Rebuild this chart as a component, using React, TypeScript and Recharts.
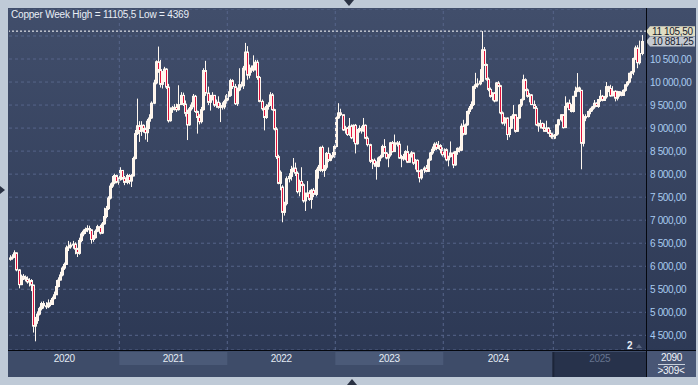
import React from "react";
import { Bar, CartesianGrid, ComposedChart, ReferenceLine, XAxis, YAxis } from "recharts";

// weekly candles [open, high, low, close]
const w2020 = [
  [6150, 6240, 6120, 6180], [6180, 6260, 6140, 6200], [6200, 6345, 6180, 6290], [6290, 6300, 5890, 5920],
  [5920, 5940, 5520, 5600], [5600, 5820, 5590, 5780], [5780, 5830, 5700, 5760], [5760, 5800, 5670, 5720],
  [5720, 5780, 5620, 5660], [5660, 5740, 5560, 5690], [5690, 5720, 5460, 5590], [5590, 5600, 4560, 4700],
  [4700, 4900, 4369, 4820], [4820, 5020, 4750, 4960], [4960, 5120, 4930, 5080], [5080, 5230, 5040, 5190],
  [5190, 5240, 5080, 5140], [5140, 5220, 5070, 5120], [5120, 5280, 5090, 5200], [5200, 5270, 5130, 5170],
  [5170, 5340, 5160, 5300], [5300, 5450, 5280, 5380], [5380, 5700, 5380, 5560], [5560, 5760, 5540, 5700],
  [5700, 5880, 5690, 5810], [5810, 6000, 5780, 5960], [5960, 6080, 5920, 6040], [6040, 6450, 6030, 6400],
  [6400, 6550, 6330, 6420], [6420, 6520, 6380, 6460], [6460, 6550, 6380, 6480], [6480, 6520, 6260, 6370],
  [6370, 6400, 6200, 6280], [6280, 6620, 6250, 6560], [6560, 6740, 6520, 6700], [6700, 6800, 6650, 6760],
  [6760, 6840, 6700, 6800], [6800, 6890, 6740, 6820], [6820, 6880, 6700, 6790], [6790, 6800, 6490, 6580],
  [6580, 6680, 6530, 6620], [6620, 6800, 6600, 6760], [6760, 6900, 6740, 6860], [6860, 6900, 6690, 6720],
  [6720, 6960, 6700, 6920], [6920, 7270, 6900, 7080], [7080, 7310, 7040, 7250], [7250, 7520, 7220, 7480],
  [7480, 7800, 7450, 7740], [7740, 7960, 7700, 7810], [7810, 8010, 7780, 7970], [7970, 7990, 7800, 7830],
  [7830, 7930, 7770, 7880],
];
const w2021 = [
  [7880, 8150, 7860, 8080], [8080, 8080, 7880, 7920], [7920, 7960, 7760, 7820], [7820, 8010, 7780, 7970],
  [7970, 8000, 7780, 7850], [7850, 8000, 7720, 7960], [7960, 8380, 7950, 8340], [8340, 8960, 8320, 8880],
  [8880, 9640, 8850, 9050], [9050, 9150, 8700, 8930], [8930, 9150, 8830, 9060], [9060, 9080, 8900, 8990],
  [8990, 9010, 8750, 8900], [8900, 9200, 8700, 9150], [9150, 9300, 8980, 9220], [9220, 9580, 9200, 9540],
  [9540, 10050, 9520, 9980], [9980, 10470, 9950, 10440], [10440, 10770, 10200, 10270], [10270, 10480, 9880, 9950],
  [9950, 10240, 9860, 10180], [10180, 10330, 10000, 10280], [10280, 10300, 9850, 9890], [9890, 9960, 9120, 9160],
  [9160, 9450, 9140, 9400], [9400, 9480, 9330, 9440], [9440, 9520, 9380, 9450], [9450, 9530, 9350, 9400],
  [9400, 9930, 9380, 9510], [9510, 9780, 9500, 9710], [9710, 9770, 9480, 9520], [9520, 9600, 9250, 9320],
  [9320, 9400, 8740, 9070], [9070, 9460, 9050, 9420], [9420, 9560, 9380, 9500], [9500, 9740, 9450, 9690],
  [9690, 9720, 9330, 9360], [9360, 9380, 8880, 9230], [9230, 9300, 9080, 9140], [9140, 9460, 9100, 9400],
  [9400, 10300, 9380, 10250], [10250, 10460, 9700, 9760], [9760, 9900, 9500, 9560], [9560, 9720, 9380, 9630],
  [9630, 9780, 9600, 9710], [9710, 9720, 9460, 9500], [9500, 9620, 9440, 9560], [9560, 9690, 9420, 9450],
  [9450, 9550, 9130, 9490], [9490, 9560, 9400, 9460], [9460, 9620, 9410, 9580], [9580, 9740, 9530, 9700],
];
const w2022 = [
  [9700, 9800, 9600, 9710], [9710, 10070, 9680, 10030], [10030, 10060, 9850, 9900], [9900, 9960, 9500, 9530],
  [9530, 9880, 9480, 9830], [9830, 10300, 9800, 9940], [9940, 10010, 9880, 9920], [9920, 10350, 9850, 10300],
  [10300, 10850, 10250, 10650], [10650, 10780, 10050, 10150], [10150, 10380, 10080, 10300], [10300, 10360, 10200, 10260],
  [10260, 10580, 10220, 10350], [10350, 10480, 10250, 10430], [10430, 10480, 10050, 10100], [10100, 10130, 9560, 9580],
  [9580, 9620, 9380, 9420], [9420, 9450, 8950, 9230], [9230, 9520, 9200, 9470], [9470, 9560, 9400, 9500],
  [9500, 9780, 9480, 9720], [9720, 9760, 9380, 9400], [9400, 9420, 8950, 8980], [8980, 9020, 8330, 8380],
  [8380, 8420, 7780, 7800], [7800, 8080, 7650, 8040], [7720, 7760, 6955, 7170], [7170, 7400, 7100, 7360],
  [7360, 7950, 7320, 7900], [7900, 8020, 7820, 7950], [7950, 8180, 7860, 8100], [8100, 8350, 8040, 8130],
  [8130, 8250, 7960, 8020], [8020, 8060, 7580, 7620], [7620, 7880, 7520, 7840], [7840, 8150, 7740, 7770],
  [7770, 7800, 7380, 7420], [7420, 7600, 7200, 7540], [7540, 7850, 7500, 7590], [7590, 7650, 7420, 7450],
  [7450, 7680, 7250, 7650], [7650, 7700, 7500, 7560], [7560, 8120, 7520, 8080], [8080, 8200, 7900, 8150],
  [8150, 8600, 8050, 8580], [8580, 8620, 8040, 8080], [8080, 8200, 7940, 8150], [8150, 8480, 8100, 8450],
  [8450, 8580, 8260, 8300], [8300, 8450, 8280, 8400], [8400, 8480, 8340, 8380], [8380, 8640, 8350, 8600],
];
const w2023 = [
  [8600, 9250, 8580, 9220], [9220, 9540, 9200, 9330], [9330, 9420, 9260, 9290], [9290, 9300, 8940, 8960],
  [8960, 9050, 8880, 9000], [9000, 9020, 8830, 8860], [8860, 9220, 8830, 9040], [9040, 9080, 8760, 8790],
  [8790, 9080, 8700, 9060], [9060, 9090, 8450, 8660], [8660, 8980, 8640, 8950], [8950, 9060, 8900, 8990],
  [8990, 9040, 8880, 8940], [8940, 9220, 8920, 9060], [9060, 9080, 8760, 8780], [8780, 8820, 8600, 8640],
  [8640, 8660, 8240, 8280], [8280, 8330, 8110, 8300], [8300, 8340, 8160, 8220], [8220, 8280, 7880, 8170],
  [8170, 8380, 8150, 8350], [8350, 8420, 8280, 8380], [8380, 8640, 8360, 8600], [8600, 8760, 8440, 8460],
  [8460, 8480, 8320, 8350], [8350, 8440, 8150, 8420], [8420, 8700, 8380, 8680], [8680, 8720, 8470, 8490],
  [8490, 8860, 8480, 8680], [8680, 8720, 8600, 8650], [8650, 8720, 8330, 8350], [8350, 8420, 8150, 8380],
  [8380, 8440, 8290, 8330], [8330, 8520, 8300, 8490], [8490, 8620, 8240, 8260], [8260, 8440, 8250, 8420],
  [8420, 8500, 8360, 8460], [8460, 8470, 8200, 8240], [8240, 8330, 8100, 8300], [8300, 8320, 8040, 8060],
  [8060, 8080, 7820, 7920], [7920, 8110, 7880, 8090], [8090, 8170, 8020, 8130], [8130, 8200, 8040, 8060],
  [8060, 8340, 8050, 8310], [8310, 8480, 8290, 8460], [8460, 8600, 8420, 8540], [8540, 8690, 8500, 8650],
  [8650, 8700, 8520, 8560], [8560, 8720, 8540, 8620], [8620, 8650, 8450, 8530], [8530, 8580, 8380, 8420],
];
const w2024 = [
  [8420, 8560, 8360, 8530], [8530, 8560, 8280, 8310], [8310, 8400, 8170, 8380], [8380, 8710, 8360, 8460],
  [8460, 8490, 8130, 8200], [8200, 8500, 8180, 8490], [8490, 8580, 8420, 8560], [8560, 8600, 8470, 8520],
  [8520, 9100, 8500, 9040], [9040, 9180, 8840, 8870], [8870, 9100, 8850, 9070], [9070, 9380, 9050, 9360],
  [9360, 9480, 9300, 9430], [9430, 9580, 9400, 9510], [9510, 9920, 9480, 9900], [9900, 10200, 9850, 9940],
  [9940, 10080, 9880, 9960], [9960, 10280, 9930, 10020], [10020, 11105.5, 10000, 10700], [10700, 10760, 10350, 10380],
  [10380, 10400, 10030, 10060], [10060, 10100, 9800, 9840], [9840, 9880, 9660, 9690], [9690, 9780, 9600, 9760],
  [9760, 9780, 9560, 9590], [9590, 10000, 9580, 9980], [9980, 10020, 9890, 9920], [9920, 9940, 9300, 9330],
  [9330, 9360, 9080, 9110], [9110, 9240, 9050, 9220], [9220, 9230, 8740, 8860], [8860, 9020, 8800, 9000],
  [9000, 9270, 8980, 9250], [9250, 9500, 9200, 9290], [9290, 9300, 8900, 8930], [8930, 9240, 8920, 9220],
  [9220, 9520, 9200, 9500], [9500, 9640, 9460, 9620], [9620, 10160, 9600, 10050], [10050, 10080, 9800, 9830],
  [9830, 9860, 9660, 9690], [9690, 9760, 9560, 9720], [9720, 9740, 9500, 9510], [9510, 9600, 9420, 9430],
  [9430, 9480, 9050, 9070], [9070, 9120, 8920, 9050], [9050, 9180, 8990, 9100], [9100, 9120, 8980, 9000],
  [9000, 9100, 8920, 8930], [8930, 9160, 8920, 9000], [9000, 9020, 8870, 8890], [8890, 8960, 8800, 8820],
  [8820, 8900, 8760, 8780],
];
const w2025 = [
  [8780, 8870, 8760, 8850], [8850, 9080, 8830, 9070], [9070, 9200, 8860, 9180], [9180, 9300, 9140, 9290],
  [9290, 9300, 8990, 9010], [9010, 9690, 9000, 9470], [9470, 9560, 9440, 9540], [9540, 9620, 9390, 9400],
  [9400, 9520, 9340, 9360], [9360, 9700, 9340, 9690], [9690, 9900, 9680, 9800], [9800, 10195, 9780, 9870],
  [9870, 9900, 9780, 9820], [9820, 9830, 8105, 8670], [8670, 9300, 8600, 9220], [9220, 9300, 9150, 9250],
  [9250, 9380, 9230, 9360], [9360, 9440, 9300, 9410], [9410, 9480, 9360, 9460], [9460, 9610, 9420, 9540],
  [9540, 9560, 9460, 9470], [9470, 9630, 9440, 9620], [9620, 9830, 9570, 9690], [9690, 9720, 9580, 9600],
  [9600, 9700, 9590, 9680], [9680, 10000, 9640, 9900], [9900, 9920, 9780, 9860], [9860, 9940, 9680, 9700],
  [9700, 9910, 9690, 9800], [9800, 9820, 9580, 9650], [9650, 9810, 9600, 9790], [9790, 9800, 9680, 9760],
  [9760, 9790, 9690, 9710], [9710, 9840, 9700, 9820], [9820, 9950, 9790, 9940], [9940, 10020, 9900, 10000],
  [10000, 10200, 9970, 10190], [10190, 10240, 10080, 10220], [10220, 10530, 10150, 10510], [10510, 10790, 10480, 10740],
  [10740, 10800, 10300, 10420], [10420, 10900, 10380, 10620], [10620, 11020, 10580, 10881.25],
];

const years = ["2020", "2021", "2022", "2023", "2024", "2025"];
const yearBreaks = [52.5, 104.5, 156.5, 208.5, 261.5];
const priceTicks = [4500, 5000, 5500, 6000, 6500, 7000, 7500, 8000, 8500, 9000, 9500, 10000, 10500, 11000];
const weekHigh = 11105.5;
const weekLow = 4369;
const lastPrice = 10881.25;

const FONT = "'Liberation Sans', Arial, sans-serif";
const X_MIN = -0.63;
const X_MAX = 306.13;
const PLOT_W = 637;
const PX = PLOT_W / (X_MAX - X_MIN);

const data = [...w2020, ...w2021, ...w2022, ...w2023, ...w2024, ...w2025].map(([o, h, l, c], i) => ({
  i, o, h, l, c, range: [l, h],
}));

const spans = [X_MIN, ...yearBreaks, X_MAX].slice(0, -1).map((s, k, arr) => {
  const e = k < arr.length - 1 ? arr[k + 1] : X_MAX;
  return [s, e];
});
const yearMids = spans.map(([s, e]) => (s + e) / 2);

const fmt = (v: number) => {
  const [int, dec] = v.toFixed(2).split(".");
  const grouped = int.replace(/\B(?=(\d{3})+(?!\d))/g, " ");
  return `${grouped},${dec}`;
};

const Candle = (props: any) => {
  const { x, y, width, height, payload } = props;
  const { o, h, l, c } = payload;
  const top = Math.min(y, y + height);
  const bot = Math.max(y, y + height);
  const k = h === l ? 0 : (bot - top) / (h - l);
  const cx = Math.round(x + width / 2) + 0.5;
  const yO = top + (h - o) * k;
  const yC = top + (h - c) * k;
  const up = c >= o;
  const bTop = Math.min(yO, yC);
  const bH = Math.max(1, Math.abs(yC - yO));
  return (
    <g>
      <line x1={cx} x2={cx} y1={top} y2={bot} stroke="#fff8f0" strokeWidth={1} />
      <rect x={cx - 1} y={bTop} width={2} height={bH} fill={up ? "#fff3e8" : "#e0123c"} stroke="#fff8f0" strokeWidth={1} />
    </g>
  );
};

const YearTick = (props: any) => {
  const { x, y, index } = props;
  const [s, e] = spans[index];
  const w = (e - s) * PX;
  const left = x - w / 2;
  const last = index === years.length - 1;
  return (
    <g>
      {index % 2 === 1 && <rect x={left} y={y + 2} width={w} height={13} fill="#4b5a78" />}
      {last && <rect x={left} y={y + 2} width={w} height={25} fill="#27324b" />}
      {last && <rect x={left - 1} y={y + 2} width={2} height={25} fill="#1c2539" />}
      <text x={x} y={y + 12} textAnchor="middle" fontSize={10} letterSpacing={-0.3} fontFamily={FONT}
        fill={last ? "#66748f" : "#e4ebf4"}>{years[index]}</text>
    </g>
  );
};

const PriceTick = (props: any) => {
  const { x, y, payload } = props;
  if (payload.value >= 11000) return <g />;
  return (
    <text x={x} y={y} dy="0.35em" fontSize={10} letterSpacing={-0.35} fontFamily={FONT} fill="#a9cbf0">
      {fmt(payload.value)}
    </text>
  );
};

const tag = (value: number, bg: string) => (props: any) => {
  const { viewBox } = props;
  const x0 = viewBox.x + viewBox.width;
  const y0 = viewBox.y;
  const pts = `${x0},${y0} ${x0 + 4},${y0 - 5} ${x0 + 49},${y0 - 5} ${x0 + 49},${y0 + 5} ${x0 + 4},${y0 + 5}`;
  return (
    <g>
      <polygon points={pts} fill={bg} />
      <text x={x0 + 6} y={y0} dy="0.35em" fontSize={10} letterSpacing={-0.35} fontFamily={FONT} fill="#18202e">
        {fmt(value)}
      </text>
    </g>
  );
};

export default function App() {
  return (
    <div style={{ position: "absolute", left: 0, top: 0, width: 698, height: 385, background: "#bfcad7", overflow: "hidden", fontFamily: FONT }}>
      <div style={{ position: "absolute", left: 8, top: 8, width: 688, height: 369, background: "linear-gradient(#414e6b, #2b3753)" }} />
      <div style={{ position: "absolute", left: 8, top: 350, width: 638, height: 27, background: "#3e4c69" }} />
      <div style={{ position: "absolute", left: 646, top: 350, width: 50, height: 27, background: "#485675" }} />
      <div style={{ position: "absolute", left: 9, top: 9 }}>
        <ComposedChart width={687} height={368} data={data} margin={{ top: 0, right: 0, bottom: 0, left: 0 }}>
          <CartesianGrid vertical={false} stroke="#56658a" strokeDasharray="3 3" />
          <XAxis type="number" dataKey="i" domain={[X_MIN, X_MAX]} allowDataOverflow ticks={yearMids} interval={0}
            tick={<YearTick />} tickLine={false} tickSize={0} tickMargin={0} axisLine={false} height={27} />
          <YAxis orientation="right" domain={[4181, 11586]} allowDataOverflow ticks={priceTicks} interval={0}
            tick={<PriceTick />} tickLine={false} tickSize={0} tickMargin={4} axisLine={false} width={50} />
          {yearBreaks.map((b) => (
            <ReferenceLine key={b} x={b} stroke="#56658a" strokeDasharray="3 3" />
          ))}
          <Bar dataKey="range" barSize={2} shape={<Candle />} isAnimationActive={false} />
          <ReferenceLine y={weekHigh} stroke="#ffffff" strokeDasharray="2 2" label={tag(weekHigh, "#e0ddc3")} />
          <ReferenceLine y={lastPrice} stroke="none" label={tag(lastPrice, "#c4c9d1")} />
        </ComposedChart>
      </div>
      <div style={{ position: "absolute", left: 646, top: 8, width: 1, height: 369, background: "#05080f" }} />
      <div style={{ position: "absolute", left: 8, top: 350, width: 688, height: 1, background: "#05080f" }} />
      <div style={{ position: "absolute", left: 11, top: 9, fontSize: 10, lineHeight: "12px", color: "#e9eef6", letterSpacing: -0.2, whiteSpace: "nowrap" }}>
        Copper Week High = {String(weekHigh).replace(".", ",")} Low = {weekLow}
      </div>
      <div style={{ position: "absolute", left: 646, top: 352, width: 50, textAlign: "center", fontSize: 10, lineHeight: "11px", color: "#f2f5fa", letterSpacing: -0.3 }}>
        <div style={{ borderBottom: "1px solid #c8d0dc", margin: "0 11px 0 12px", paddingBottom: 1 }}>2090</div>
        <div>&gt;309&lt;</div>
      </div>
      <div style={{ position: "absolute", left: 627, top: 340, fontSize: 10, fontWeight: "bold", color: "#e8eef6", lineHeight: "12px" }}>2</div>
      <div style={{ position: "absolute", left: 636, top: 344, width: 0, height: 0, borderLeft: "3px solid transparent", borderRight: "3px solid transparent", borderBottom: "4px solid #5a6680" }} />
      <div style={{ position: "absolute", left: 344, top: 0, width: 0, height: 0, borderLeft: "5px solid transparent", borderRight: "5px solid transparent", borderTop: "6px solid #2a3244" }} />
      <div style={{ position: "absolute", left: 347, top: 379, width: 0, height: 0, borderLeft: "5px solid transparent", borderRight: "5px solid transparent", borderBottom: "6px solid #2a3244" }} />
      <div style={{ position: "absolute", left: 0, top: 186, width: 0, height: 0, borderTop: "4px solid transparent", borderBottom: "4px solid transparent", borderLeft: "5px solid #2a3244" }} />
    </div>
  );
}
